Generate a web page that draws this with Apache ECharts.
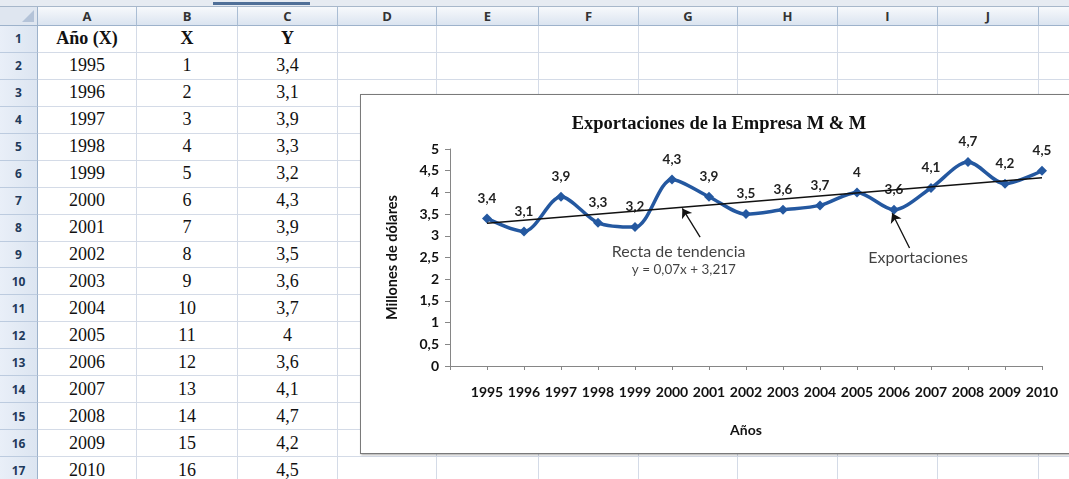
<!DOCTYPE html>
<html><head><meta charset="utf-8">
<script src="https://cdn.jsdelivr.net/npm/echarts@6/dist/echarts.min.js"></script>
<style>
html,body{margin:0;padding:0;width:1069px;height:479px;overflow:hidden;background:#fff;}
#sheet{position:absolute;left:0;top:0;width:1069px;height:479px;overflow:hidden;font-family:"Liberation Serif","Times New Roman",serif;}
.c{position:absolute;box-sizing:border-box;border-right:1px solid #d4dbe7;border-bottom:1px solid #d4dbe7;display:flex;align-items:center;justify-content:center;font-size:18px;color:#111;white-space:nowrap;}
.colh{background:linear-gradient(#f7f9fc,#dbe4f0);border-right:1px solid #aabdd4;border-bottom:1px solid #9db2cb;font-family:"Open Sans",sans-serif;font-size:13px;font-weight:bold;color:#333;}
.rowh{background:linear-gradient(90deg,#e9eff8,#dce5f1);border-right:1px solid #9db2cb;border-bottom:1px solid #bccbdf;font-family:"Open Sans",sans-serif;font-size:12px;font-weight:bold;color:#1f3a5c;}
.corner{background:#dfe6f0;border-right:1px solid #9db2cb;border-bottom:1px solid #9db2cb;}
.tri{position:absolute;right:3px;bottom:3px;width:0;height:0;border-left:12px solid transparent;border-bottom:12px solid #b4c3d8;}
#strip{position:absolute;left:0;top:0;width:1069px;height:7px;background:#e6ebf2;border-bottom:1px solid #a7b7ca;box-sizing:border-box;}
#tab{position:absolute;left:213px;top:2px;width:97px;height:3px;background:#4f6f98;}
#frame{position:absolute;left:360px;top:94px;width:760px;height:360px;box-sizing:border-box;background:#fff;border:1px solid #7a7a7a;box-shadow:1px 1px 2px rgba(0,0,0,0.35);}
#chart{position:absolute;left:0;top:0;width:1069px;height:479px;}
</style></head>
<body>
<div id="sheet"></div>
<div id="frame"></div>
<div id="chart"></div>
<script>
// ---- data ----
const years = ['1995','1996','1997','1998','1999','2000','2001','2002','2003','2004','2005','2006','2007','2008','2009','2010'];
const xValues = [1,2,3,4,5,6,7,8,9,10,11,12,13,14,15,16];
const yValues = [3.4,3.1,3.9,3.3,3.2,4.3,3.9,3.5,3.6,3.7,4,3.6,4.1,4.7,4.2,4.5];
const trendSlope = 0.07;
const trendIntercept = 3.217;
const columnLetters = ['A','B','C','D','E','F','G','H','I','J','K'];
const headerRow = ['Año (X)','X','Y'];
// annotation texts and anchors (data space)
const noteTexts = ['Recta de tendencia','y = 0,07x + 3,217','Exportaciones'];
const notePoints = [[6.18,2.63],[6.32,2.21],[12.65,2.49]];
const arrowFrom = [[6.76,2.97],[12.42,2.72]];
const arrowTo = [[6.28,3.63],[11.95,3.52]];

const fmt = v => String(v).replace('.', ',');

// ---- spreadsheet background ----
const sheet = document.getElementById('sheet');
const colEdges = [0,38,137,238,338,437,539,639,738,838,938,1039,1139];
const headTop = 7, headH = 19, rowTop = 26, rowH = 26.94, nRows = 17;
let html = '<div id="strip"></div><div id="tab"></div>';
html += `<div class="c corner" style="left:0;top:${headTop}px;width:38px;height:${headH}px"><div class="tri"></div></div>`;
for (let j = 0; j < columnLetters.length; j++) {
  const l = colEdges[j+1], w = colEdges[j+2]-colEdges[j+1];
  html += `<div class="c colh" style="left:${l}px;top:${headTop}px;width:${w}px;height:${headH}px">${columnLetters[j]}</div>`;
}
for (let i = 0; i < nRows; i++) {
  const t = rowTop + i*rowH;
  html += `<div class="c rowh" style="left:0;top:${t}px;width:38px;height:${rowH}px">${i+1}</div>`;
  for (let j = 0; j < columnLetters.length; j++) {
    const l = colEdges[j+1], w = colEdges[j+2]-colEdges[j+1];
    let txt = '', st = '';
    if (i === 0 && j < 3) { txt = headerRow[j]; st = 'font-weight:bold;'; }
    else if (i > 0 && j === 0) txt = years[i-1];
    else if (i > 0 && j === 1) txt = xValues[i-1];
    else if (i > 0 && j === 2) txt = fmt(yValues[i-1]);
    html += `<div class="c" style="left:${l}px;top:${t}px;width:${w}px;height:${rowH}px;${st}">${txt}</div>`;
  }
}
sheet.innerHTML = html;

// ---- chart ----
const FONT = 'Lato, "Open Sans", sans-serif';
const chart = echarts.init(document.getElementById('chart'), null, {renderer:'canvas'});
chart.setOption({
  backgroundColor: 'transparent',
  animation: false,
  textStyle: {fontFamily: FONT},
  title: {
    text: 'Exportaciones de la Empresa M & M',
    left: 714, top: 110, textAlign: 'center',
    textStyle: {fontFamily: '"Liberation Serif","Times New Roman",serif', fontWeight: 'bold', fontSize: 18.5, color: '#111'}
  },
  grid: {left: 450, top: 149, right: 27, bottom: 113, containLabel: false, outerBoundsMode: 'none'},
  xAxis: {
    type: 'value', min: 0, max: 16, interval: 1,
    name: 'Años', nameLocation: 'middle', nameGap: 57,
    nameTextStyle: {fontFamily: FONT, fontWeight: 'bold', fontSize: 14, color: '#111'},
    axisLine: {show: true, lineStyle: {color: '#868686', width: 1}},
    axisTick: {show: true, length: 4, lineStyle: {color: '#868686'}},
    axisLabel: {margin: 19, fontFamily: FONT, fontWeight: 'bold', fontSize: 14, color: '#111',
      formatter: v => (v >= 1 && v <= years.length) ? years[v-1] : ''},
    splitLine: {show: false}
  },
  yAxis: {
    type: 'value', min: 0, max: 5, interval: 0.5,
    name: 'Millones de dólares', nameLocation: 'middle', nameGap: 50, nameRotate: 90,
    nameTextStyle: {fontFamily: FONT, fontWeight: 'bold', fontSize: 14.5, color: '#111'},
    axisLine: {show: true, lineStyle: {color: '#868686', width: 1}},
    axisTick: {show: true, length: 5, lineStyle: {color: '#868686'}},
    axisLabel: {margin: 11, fontFamily: FONT, fontWeight: 'bold', fontSize: 14, color: '#111', formatter: v => fmt(v)},
    splitLine: {show: false}
  },
  series: [
    {
      name: 'Exportaciones', type: 'line', smooth: 0.3,
      data: xValues.map((x, i) => [x, yValues[i]]),
      symbol: 'diamond', symbolSize: 10,
      itemStyle: {color: '#2458a0'},
      lineStyle: {color: '#2458a0', width: 3.5},
      label: {show: true, position: 'top', distance: 8, fontFamily: FONT, fontWeight: 'bold', fontSize: 13.5, color: '#222',
        formatter: p => fmt(p.value[1])},
      emphasis: {disabled: true}, silent: true, z: 2
    },
    {
      name: 'Recta de tendencia', type: 'line',
      data: [xValues[0], xValues[xValues.length-1]].map(x => [x, trendIntercept + trendSlope*x]),
      showSymbol: false, symbol: 'none',
      lineStyle: {color: '#111', width: 1.5},
      emphasis: {disabled: true}, silent: true, z: 3
    },
    {
      name: 'notas', type: 'scatter', symbolSize: 0, silent: true, z: 4,
      data: noteTexts.map((t, i) => ({name: t, value: notePoints[i],
        label: {fontSize: i === 1 ? 13.5 : 16}})),
      label: {show: true, position: 'inside', formatter: '{b}', fontFamily: FONT, color: '#111'},
      markLine: {
        silent: true, symbol: ['none', 'arrow'], symbolSize: 9,
        lineStyle: {color: '#111', width: 1.3, type: 'solid'},
        label: {show: false}, emphasis: {disabled: true},
        data: arrowFrom.map((f, i) => [{coord: f}, {coord: arrowTo[i]}])
      }
    }
  ]
});
</script>
</body></html>
